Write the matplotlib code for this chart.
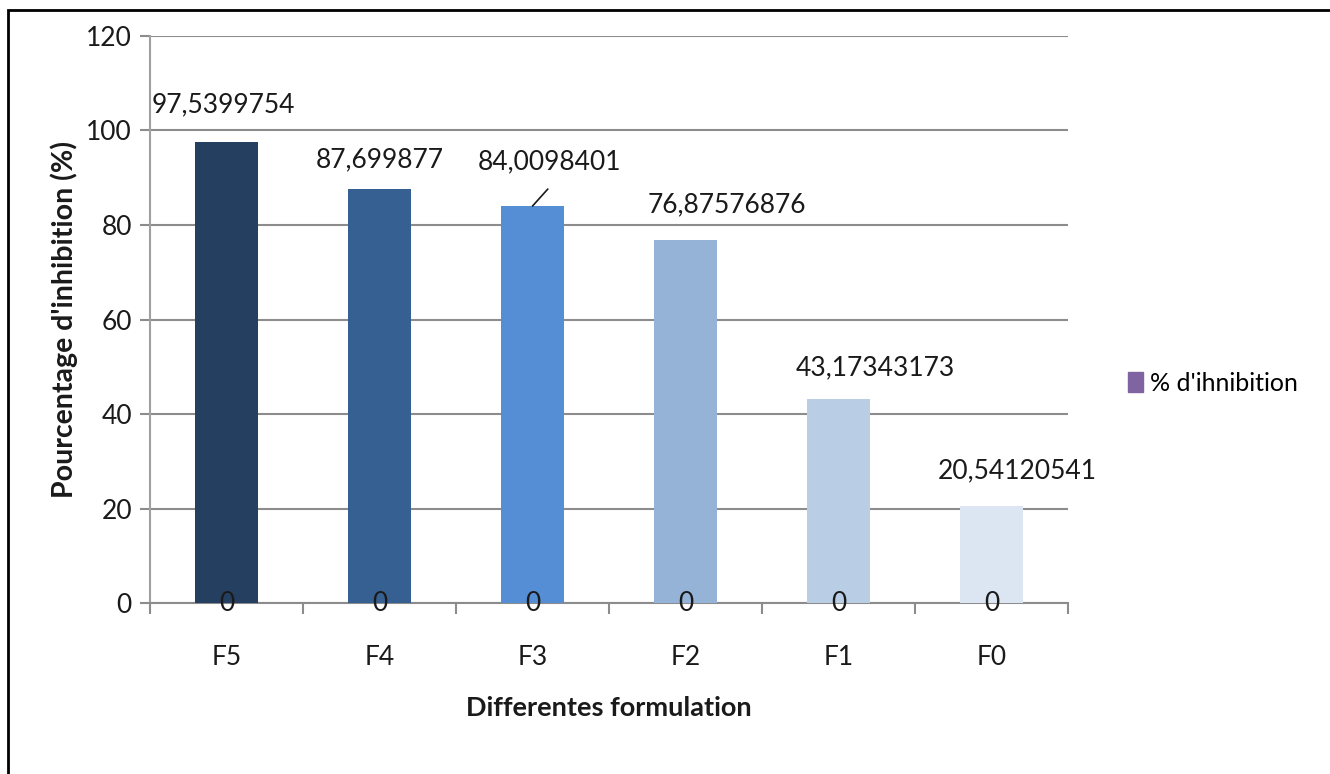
import matplotlib
matplotlib.use('Agg')
import numpy as np
from matplotlib import pyplot as plt
from matplotlib.patches import Rectangle, Patch

plt.rcParams['font.family'] = ['Lato', 'DejaVu Sans']

# données : pourcentage d'inhibition par formulation
formulations = ['F5', 'F4', 'F3', 'F2', 'F1', 'F0']
inhibition = [97.5399754, 87.699877, 84.0098401, 76.87576876, 43.17343173, 20.54120541]
etiquettes = ['97,5399754', '87,699877', '84,0098401', '76,87576876', '43,17343173', '20,54120541']
couleurs = ['#243F60', '#376092', '#558ED5', '#95B3D7', '#B9CDE5', '#DCE6F2']

# décalage des étiquettes (x en catégories, y en %)
dx = [-0.02, 0.0, 0.11, 0.27, 0.24, 0.17]
dy = [8.0, 6.0, 9.3, 7.5, 6.5, 7.5]

fig = plt.figure(figsize=(13.3, 7.74), dpi=100)
ax = fig.add_axes([0.1128, 0.2209, 0.6902, 0.7326])

x = np.arange(len(formulations))
ax.bar(x, inhibition, width=0.41, color=couleurs, zorder=3)

ax.set_xlim(-0.5, len(formulations) - 0.5)
ax.set_ylim(0, 120)
ax.set_yticks(np.arange(0, 121, 20))
ax.yaxis.grid(True, color='#8c8c8c', lw=1.5, zorder=0)

for s in ['top', 'right']:
    ax.spines[s].set_visible(False)
ax.spines['left'].set_color('#a0a0a0')
ax.spines['left'].set_linewidth(1.5)
ax.spines['bottom'].set_color('#8c8c8c')
ax.spines['bottom'].set_linewidth(1.5)

# ticks x entre les catégories
ax.set_xticks(np.arange(-0.5, len(formulations), 1.0))
ax.set_xticklabels([])
ax.set_xticks(x, minor=True)
ax.set_xticklabels(formulations, minor=True, fontsize=19, color='#1a1a1a')
ax.tick_params(axis='x', which='major', length=8, width=1.5, color='#8c8c8c')
ax.tick_params(axis='x', which='minor', length=0, pad=30)
ax.tick_params(axis='y', length=7, width=1.5, color='#8c8c8c', labelsize=19,
               labelcolor='#1a1a1a', pad=6)

# étiquettes de valeur
for i, v in enumerate(inhibition):
    ax.text(i + dx[i], v + dy[i], etiquettes[i], ha='center', va='center',
            fontsize=19, color='#1a1a1a', zorder=5)
    ax.text(i, 0, '0', ha='center', va='center', fontsize=19, color='#1a1a1a', zorder=5)

# trait de rappel pour F3
ax.annotate('', xy=(2.0, inhibition[2]), xytext=(2.1, inhibition[2] + 3.6),
            arrowprops=dict(arrowstyle='-', color='#1a1a1a', lw=1.2,
                            shrinkA=0, shrinkB=0))

ax.set_ylabel("Pourcentage d'inhibition (%)", fontsize=20.5, fontweight='bold',
              color='#1a1a1a', labelpad=6)
ax.set_xlabel('Differentes formulation', fontsize=19.5, fontweight='bold',
              color='#1a1a1a', labelpad=19)

fig.legend(handles=[Patch(color='#8064A2', label="% d'ihnibition")],
           loc='center left', bbox_to_anchor=(0.831, 0.505), frameon=False,
           fontsize=18, handlelength=0.6, handleheight=0.9, handletextpad=0.3)

# cadre autour de la figure
fig.patches.append(Rectangle((0.006, -0.05), 1.1, 1.037, transform=fig.transFigure,
                             fill=False, ec='black', lw=2))

fig.savefig('out.png', dpi=100)
